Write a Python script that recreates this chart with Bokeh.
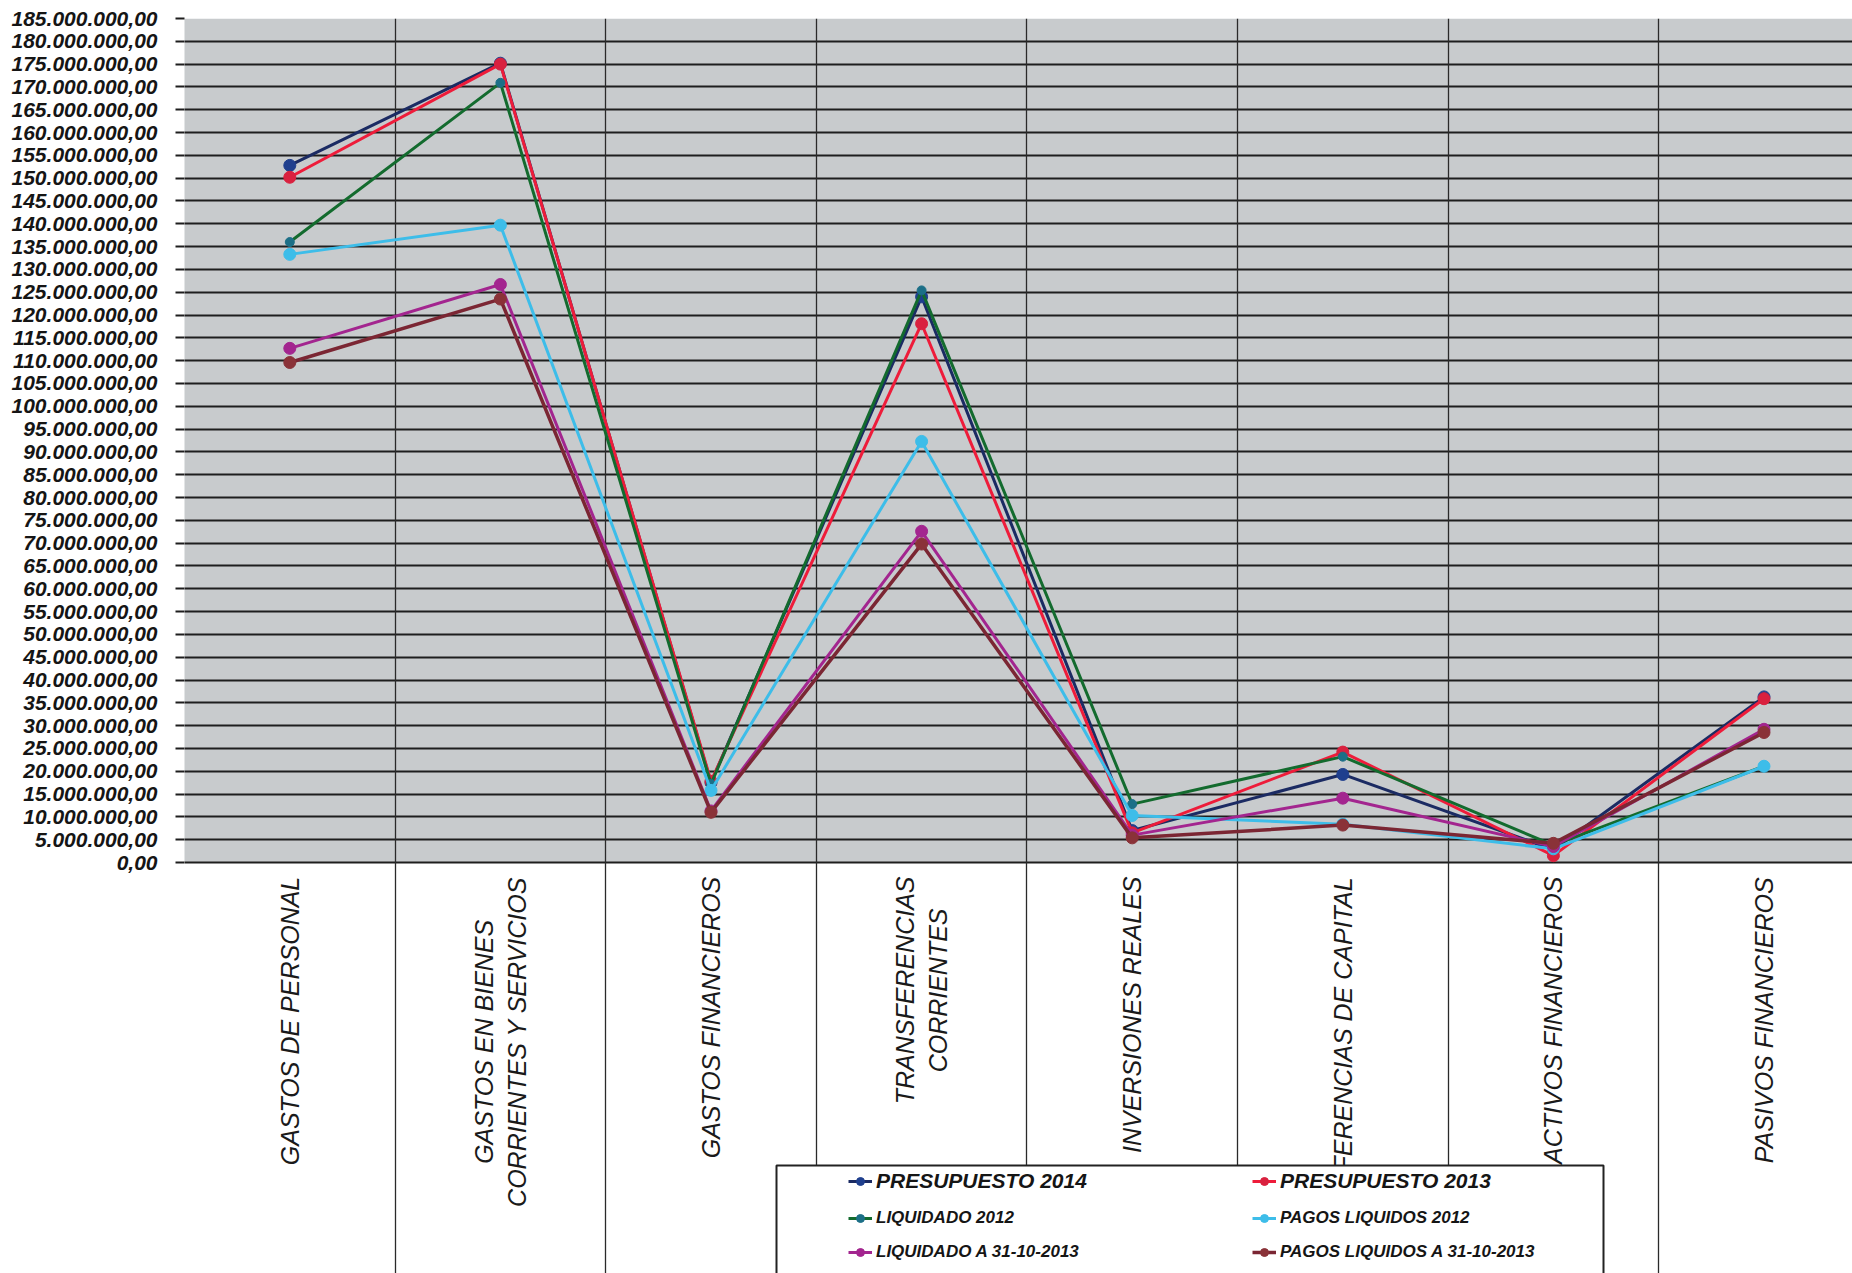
from bokeh.plotting import figure
from bokeh.models import (Range1d, FixedTicker, CustomJSTickFormatter, Grid,
                          Legend, LegendItem)
from bokeh.core.properties import value
from bokeh.embed import file_html
from bokeh.resources import INLINE

# ---- data (euros, in millions) ----
categories = [
    "GASTOS DE PERSONAL",
    "GASTOS EN BIENES\nCORRIENTES Y SERVICIOS",
    "GASTOS FINANCIEROS",
    "TRANSFERENCIAS\nCORRIENTES",
    "INVERSIONES REALES",
    "TRANSFERENCIAS DE CAPITAL",
    "ACTIVOS FINANCIEROS",
    "PASIVOS FINANCIEROS",
]
presupuesto_2014 = [152.8, 175.2, 17.5, 124.0, 7.0, 19.3, 2.8, 36.3]
presupuesto_2013 = [150.2, 175.0, 17.8, 118.1, 6.5, 24.2, 1.5, 35.9]
liquidado_2012 = [136.0, 170.9, 17.2, 125.4, 12.8, 23.2, 3.8, 21.1]
pagos_liquidos_2012 = [133.3, 139.7, 15.8, 92.3, 10.3, 8.4, 3.0, 21.1]
liquidado_31_10_2013 = [112.7, 126.7, 11.3, 72.6, 6.0, 14.1, 3.5, 29.2]
pagos_liquidos_31_10_2013 = [109.6, 123.5, 11.0, 69.8, 5.4, 8.2, 4.2, 28.5]

series_labels = [
    "PRESUPUESTO 2014", "PRESUPUESTO 2013", "LIQUIDADO 2012",
    "PAGOS LIQUIDOS 2012", "LIQUIDADO A 31-10-2013", "PAGOS LIQUIDOS A 31-10-2013",
]
y_ticks_millions = list(range(0, 186, 5))

# ---- layout geometry (pixels) ----
W, H = 1852, 1273
FRAME_LEFT = 184
FRAME_TOP = 18
ZERO_PX = 862
COL_PX = 210.6
Y_MAX = 185e6
UNITS_PER_PX = Y_MAX / (ZERO_PX - FRAME_TOP)
Y_MIN = -(H - ZERO_PX) * UNITS_PER_PX
X_MAX = (W - FRAME_LEFT) / COL_PX


def px_to_y(py):
    return Y_MAX - (py - FRAME_TOP) * UNITS_PER_PX


def px_to_x(px):
    return (px - FRAME_LEFT) / COL_PX


# Arial / Liberation Sans advance widths (1/1000 em) for centring rotated labels
ADV = {'A': 667, 'B': 667, 'C': 722, 'D': 722, 'E': 667, 'F': 611, 'G': 778,
       'H': 722, 'I': 278, 'J': 500, 'K': 667, 'L': 556, 'M': 833, 'N': 722,
       'O': 778, 'P': 667, 'Q': 778, 'R': 722, 'S': 667, 'T': 611, 'U': 722,
       'V': 667, 'W': 944, 'X': 667, 'Y': 667, 'Z': 611, ' ': 278}
LABEL_SIZE = 25


def text_px(s, size):
    return sum(ADV.get(c, 600) for c in s) / 1000.0 * size


p = figure(width=W, height=H, output_backend="svg", toolbar_location=None,
           x_range=Range1d(0, X_MAX), y_range=Range1d(Y_MIN, Y_MAX),
           x_axis_location=None, y_axis_location="left",
           min_border_left=FRAME_LEFT, min_border_right=0,
           min_border_top=FRAME_TOP, min_border_bottom=0,
           outline_line_color=None, background_fill_color="white",
           border_fill_color="white", title=None)

# grey plotting band
band = p.quad(left=-1, right=X_MAX + 1, bottom=0, top=Y_MAX,
              fill_color="#c8cbcd", line_color=None)
band.level = "image"

# horizontal gridlines and y axis
ticks = [t * 1e6 for t in y_ticks_millions]
p.yaxis.ticker = FixedTicker(ticks=ticks)
p.yaxis.formatter = CustomJSTickFormatter(code="""
    const s = Math.round(tick).toString().replace(/\\B(?=(\\d{3})+(?!\\d))/g, ".");
    return s + ",00";
""")
p.yaxis.axis_line_color = None
p.yaxis.major_tick_out = 9
p.yaxis.major_tick_in = 0
p.yaxis.major_tick_line_color = "#1e1e1e"
p.yaxis.major_tick_line_width = 2
p.yaxis.minor_tick_line_color = None
p.yaxis.major_label_standoff = 18
p.yaxis.major_label_text_font = "Liberation Sans"
p.yaxis.major_label_text_font_style = "bold italic"
p.yaxis.major_label_text_font_size = "21px"
p.yaxis.major_label_text_color = "#151515"

p.ygrid.ticker = FixedTicker(ticks=ticks)
p.ygrid.grid_line_color = "#1e1e1e"
p.ygrid.grid_line_width = 2
p.xgrid.visible = False

# category separators running through the label area
p.add_layout(Grid(dimension=0, ticker=FixedTicker(ticks=list(range(len(categories) + 1))),
                  grid_line_color="#2a2a2a", grid_line_width=1.3))

# series
xs = [i + 0.5 for i in range(len(categories))]
styles = [
    (presupuesto_2014, "#1b2b63", "#1f3f8e", 3, 12),
    (presupuesto_2013, "#ee1c3a", "#d9213f", 3, 12),
    (liquidado_2012, "#136b2e", "#1c6f87", 3, 9),
    (pagos_liquidos_2012, "#3dbde9", "#3dbde9", 3, 12),
    (liquidado_31_10_2013, "#a3258f", "#a3258f", 3, 12),
    (pagos_liquidos_31_10_2013, "#7b2633", "#8a3238", 3.5, 12),
]
items = []
for label, (vals, lc, mc, lw, ms) in zip(series_labels, styles):
    ys = [v * 1e6 for v in vals]
    ln = p.line(xs, ys, line_color=lc, line_width=lw)
    mk = p.scatter(xs, ys, marker="circle", size=ms, fill_color=mc, line_color=mc)
    items.append(LegendItem(label=label, renderers=[ln, mk]))

# rotated category labels, top-aligned just under the axis
LABEL_TOP_PX = 876
label_y = []
for c in categories:
    longest = max(text_px(line, LABEL_SIZE) for line in c.split("\n"))
    label_y.append(px_to_y(LABEL_TOP_PX + longest / 2))
p.text(x=xs, y=label_y, text=categories, angle=1.5707963,
       text_align="center", text_baseline="middle",
       text_font=value("Liberation Sans"), text_font_style="italic",
       text_font_size=f"{LABEL_SIZE}px", text_color="#1a1a1a",
       text_line_height=1.2)

# legend frame
p.quad(left=px_to_x(776), right=px_to_x(1603), top=px_to_y(1165), bottom=px_to_y(H + 20),
       fill_color="white", line_color="#222222", line_width=2)

rows = [(items[0:2], "21px", 36, 1181), (items[2:4], "17px", 34, 1218),
        (items[4:6], "17px", 34, 1252)]
for row_items, fsize, rh, cy in rows:
    lg = Legend(items=row_items, orientation="horizontal",
                location=(848 - FRAME_LEFT, H - (cy + rh // 2)),
                glyph_width=24, glyph_height=20, label_standoff=4,
                label_width=376, label_height=rh, spacing=0, padding=0, margin=0,
                background_fill_alpha=0, border_line_color=None,
                label_text_font="Liberation Sans",
                label_text_font_style="bold italic",
                label_text_font_size=fsize, label_text_color="#151515")
    p.add_layout(lg)

open("out.html", "w").write(file_html(p, INLINE))
